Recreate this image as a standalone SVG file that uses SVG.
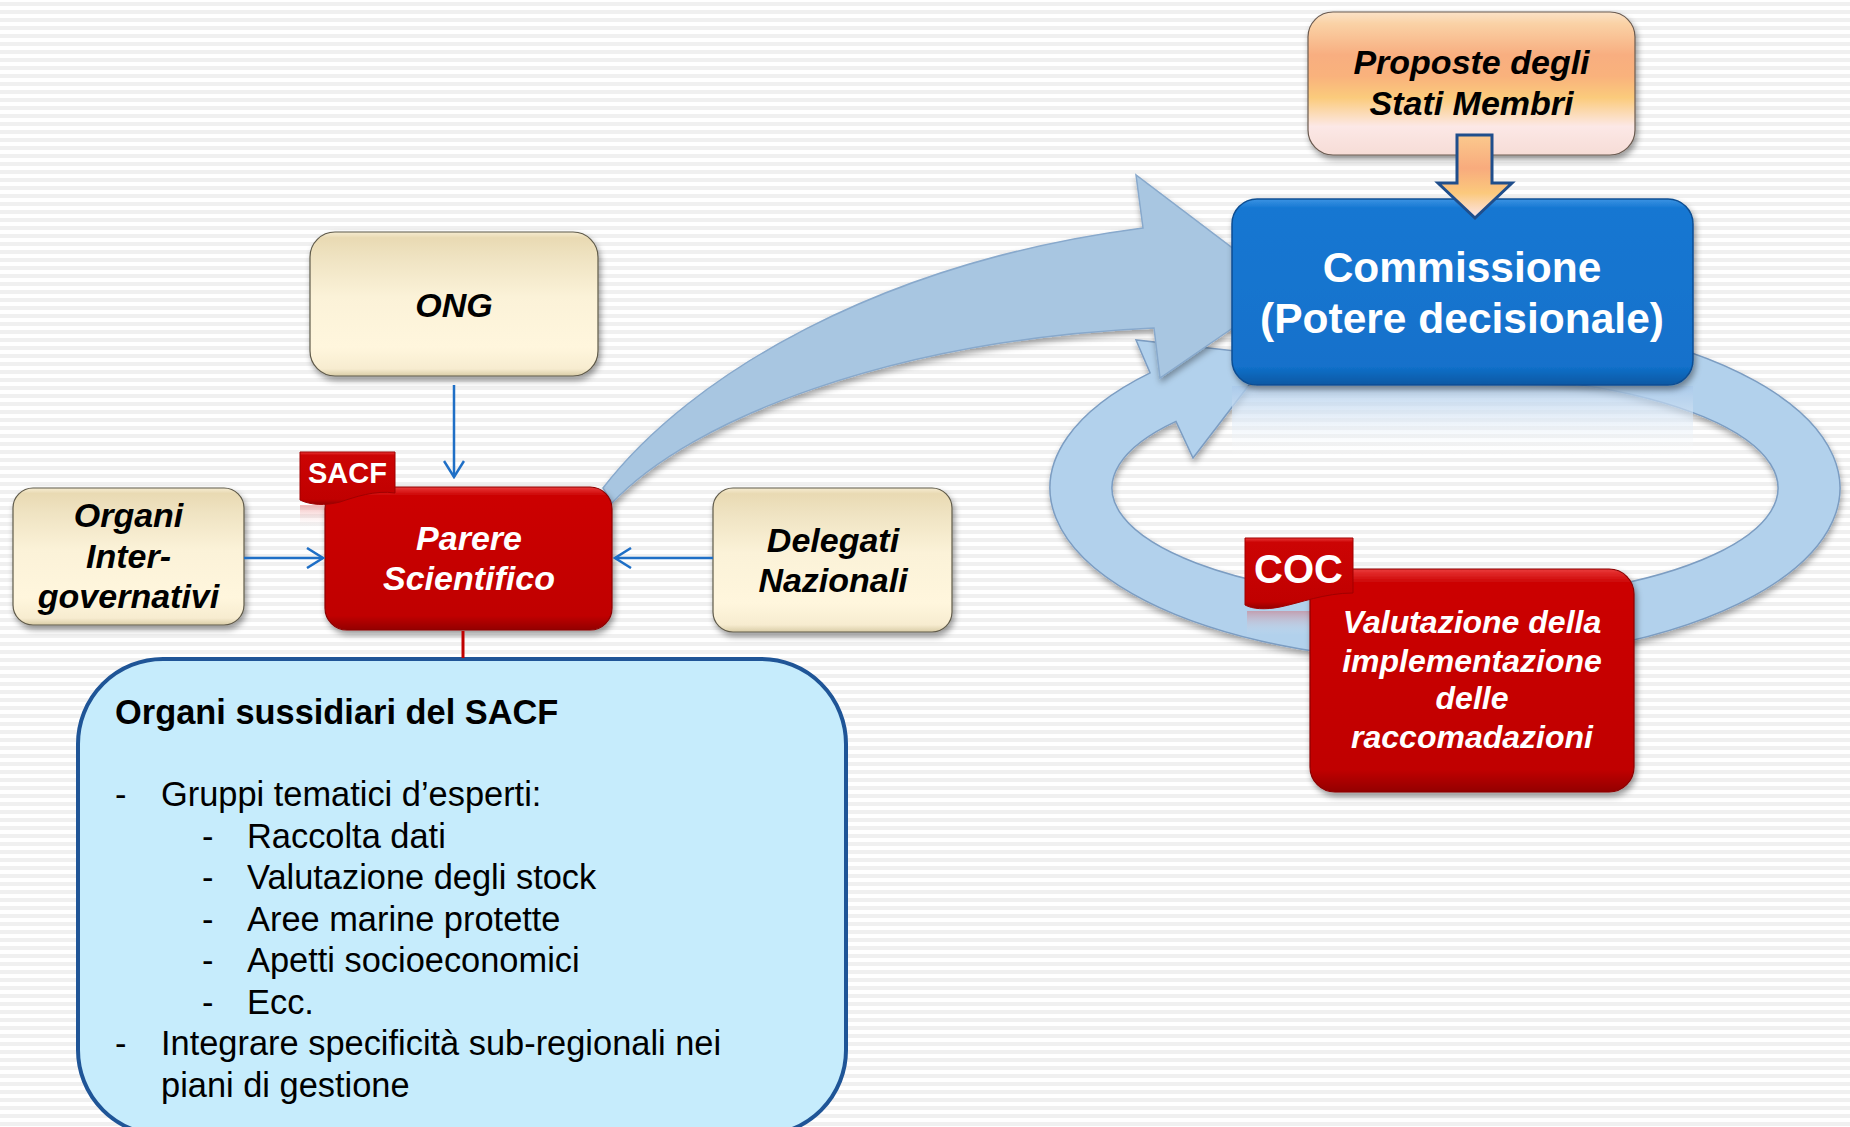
<svg xmlns="http://www.w3.org/2000/svg" width="1850" height="1127" viewBox="0 0 1850 1127">
<defs>
<pattern id="stripes" width="10" height="8" patternUnits="userSpaceOnUse">
<rect width="10" height="8" fill="#ffffff"/>
<rect width="10" height="4" y="2" fill="#f0f0f0"/>
</pattern>
<linearGradient id="beige" x1="0" y1="0" x2="0" y2="1">
<stop offset="0" stop-color="#f6ecd2"/><stop offset="0.04" stop-color="#e9dab3"/><stop offset="0.18" stop-color="#efe3c2"/><stop offset="0.45" stop-color="#fbf2d8"/><stop offset="0.8" stop-color="#fff6dd"/><stop offset="0.95" stop-color="#f7ecd0"/><stop offset="1" stop-color="#d9cca6"/>
</linearGradient>
<linearGradient id="red" x1="0" y1="0" x2="0" y2="1">
<stop offset="0" stop-color="#ea3a3a"/><stop offset="0.06" stop-color="#cc0404"/><stop offset="0.9" stop-color="#c00000"/><stop offset="1" stop-color="#930000"/>
</linearGradient>
<linearGradient id="blue" x1="0" y1="0" x2="0" y2="1">
<stop offset="0" stop-color="#3a93e3"/><stop offset="0.05" stop-color="#1677d2"/><stop offset="0.9" stop-color="#1271cb"/><stop offset="1" stop-color="#0c58a3"/>
</linearGradient>
<linearGradient id="orange" x1="0" y1="0" x2="0" y2="1">
<stop offset="0" stop-color="#fbe3c8"/><stop offset="0.08" stop-color="#fad2a6"/><stop offset="0.3" stop-color="#f8ae80"/><stop offset="0.45" stop-color="#f9b27c"/><stop offset="0.6" stop-color="#fbcb7c"/><stop offset="0.8" stop-color="#fce8e6"/><stop offset="1" stop-color="#f6dcd6"/>
</linearGradient>
<linearGradient id="harrow" x1="0" y1="0" x2="0" y2="1">
<stop offset="0" stop-color="#fbc98d"/><stop offset="0.4" stop-color="#f8ab7d"/><stop offset="0.7" stop-color="#fbc97c"/><stop offset="1" stop-color="#fce6ec"/>
</linearGradient>
<linearGradient id="refl" x1="0" y1="0" x2="0" y2="1">
<stop offset="0" stop-color="#a9c9ea" stop-opacity="0.8"/><stop offset="0.5" stop-color="#dde9f6" stop-opacity="0.6"/><stop offset="1" stop-color="#ffffff" stop-opacity="0"/>
</linearGradient>
<linearGradient id="reflRed" x1="0" y1="0" x2="0" y2="1">
<stop offset="0" stop-color="#e04040" stop-opacity="0.35"/><stop offset="1" stop-color="#ffffff" stop-opacity="0"/>
</linearGradient>
<filter id="shadow" x="-10%" y="-10%" width="125%" height="135%">
<feDropShadow dx="2" dy="4" stdDeviation="3" flood-color="#000" flood-opacity="0.4"/>
</filter>
<filter id="ashadow" x="-10%" y="-10%" width="125%" height="135%">
<feDropShadow dx="1" dy="4" stdDeviation="3" flood-color="#000" flood-opacity="0.35"/>
</filter>
<marker id="arr" viewBox="0 0 20 22" refX="18" refY="11" markerWidth="20" markerHeight="22" markerUnits="userSpaceOnUse" orient="auto">
<path d="M2,1 L18,11 L2,21" fill="none" stroke="#1f6fc6" stroke-width="2.5"/>
</marker>
</defs>
<style>
text{font-family:"Liberation Sans",Arial,Helvetica,sans-serif}
.lab{font-weight:bold;font-style:italic;font-size:34px;text-anchor:middle;fill:#000}
.wlab{font-weight:bold;font-style:italic;font-size:34px;text-anchor:middle;fill:#fff}
.clab{font-weight:bold;font-style:italic;font-size:32px;text-anchor:middle;fill:#fff}
.tag{font-weight:bold;fill:#fff;text-anchor:middle}
.list{font-size:34.4px;fill:#000}
.bbox{fill:url(#beige);stroke:#5f5a4a;stroke-width:1.2;filter:url(#shadow)}
.rbox{fill:url(#red);stroke:#8b0000;stroke-width:1.2;filter:url(#shadow)}
.blink{stroke:#1f6fc6;stroke-width:2.5;fill:none;marker-end:url(#arr)}
</style>
<rect width="1850" height="1127" fill="url(#stripes)"/>

<g id="block-arrows">
<path id="loop-arrow" d="M1445 315 A395 173 0 1 1 1150.1 372.9 L1136 340 L1272 355 L1193 458 L1176 421.4 A333 113 0 1 0 1445 375 Z" fill="#b2d1ec" stroke="#7c9dc2" stroke-width="1.5" filter="url(#ashadow)"/>
<path id="main-arrow" d="M603 488 C690 375 880 262 1143 228 L1136 175 L1288 290 L1160 378 L1154 328 C890 340 690 420 612 503 Z" fill="#a8c6e1" stroke="#88a9cc" stroke-width="1.5" filter="url(#ashadow)"/>
</g>

<g id="ong">
<rect class="bbox" x="310" y="232" width="288" height="144" rx="25"/>
<text class="lab" x="454" y="317">ONG</text>
</g>

<g id="organi">
<rect class="bbox" x="13" y="488" width="231" height="137" rx="20"/>
<text class="lab" x="128.5" y="527">Organi</text>
<text class="lab" x="128.5" y="568">Inter-</text>
<text class="lab" x="128.5" y="608">governativi</text>
</g>

<g id="parere">
<rect x="300" y="505" width="25" height="24" fill="url(#reflRed)"/>
<rect class="rbox" x="325" y="487" width="287" height="143" rx="22"/>
<text class="wlab" x="469" y="550">Parere</text>
<text class="wlab" x="469" y="590">Scientifico</text>
</g>

<g id="sacf-tag">
<path d="M300 452 H395 V493 C375 490 355 497 340 502 C325 506 310 505 300 500 Z" fill="url(#red)" stroke="#a00000" stroke-width="1"/>
<text class="tag" x="347.5" y="483" font-size="29">SACF</text>
</g>

<g id="delegati">
<rect class="bbox" x="713" y="488" width="239" height="144" rx="20"/>
<text class="lab" x="833" y="552">Delegati</text>
<text class="lab" x="833" y="592">Nazionali</text>
</g>

<g id="proposte">
<rect x="1308" y="12" width="327" height="143" rx="25" fill="url(#orange)" stroke="#6a5a50" stroke-width="1.2" filter="url(#shadow)"/>
<text class="lab" x="1471.5" y="74">Proposte degli</text>
<text class="lab" x="1471.5" y="115">Stati Membri</text>
</g>

<g id="commissione">
<rect x="1232" y="386" width="461" height="70" fill="url(#refl)"/>
<rect x="1232" y="199" width="461" height="186" rx="25" fill="url(#blue)" stroke="#0d4e92" stroke-width="1.5" filter="url(#shadow)"/>
<text x="1462" y="282" font-size="42.5" font-weight="bold" fill="#fff" text-anchor="middle">Commissione</text>
<text x="1462" y="333" font-size="42.5" font-weight="bold" fill="#fff" text-anchor="middle">(Potere decisionale)</text>
</g>

<g id="coc-box">
<rect x="1247" y="611" width="63" height="24" fill="url(#reflRed)"/>
<rect class="rbox" x="1310" y="569" width="324" height="223" rx="25"/>
<text class="clab" x="1472" y="633">Valutazione della</text>
<text class="clab" x="1472" y="672">implementazione</text>
<text class="clab" x="1472" y="709">delle</text>
<text class="clab" x="1472" y="748">raccomadazioni</text>
</g>

<g id="coc-tag">
<path d="M1245 538 H1353 V593 C1325 593 1300 603 1280 607 C1265 610 1252 609 1245 605 Z" fill="url(#red)" stroke="#a00000" stroke-width="1"/>
<text class="tag" x="1298.5" y="583" font-size="40">COC</text>
</g>

<g id="organi-sussidiari">
<rect x="78" y="659" width="768" height="476" rx="85" fill="#c6ecfc" stroke="#1f5597" stroke-width="4"/>
<text x="115" y="724" font-size="34.4" font-weight="bold" fill="#000">Organi sussidiari del SACF</text>
<text class="list" x="115" y="806">-</text><text class="list" x="161" y="806">Gruppi tematici d’esperti:</text>
<text class="list" x="202" y="848">-</text><text class="list" x="247" y="848">Raccolta dati</text>
<text class="list" x="202" y="889">-</text><text class="list" x="247" y="889">Valutazione degli stock</text>
<text class="list" x="202" y="931">-</text><text class="list" x="247" y="931">Aree marine protette</text>
<text class="list" x="202" y="972">-</text><text class="list" x="247" y="972">Apetti socioeconomici</text>
<text class="list" x="202" y="1014">-</text><text class="list" x="247" y="1014">Ecc.</text>
<text class="list" x="115" y="1055">-</text><text class="list" x="161" y="1055">Integrare specificità sub-regionali nei</text>
<text class="list" x="161" y="1097">piani di gestione</text>
</g>

<g id="connectors">
<line class="blink" x1="454" y1="385" x2="454" y2="477"/>
<line class="blink" x1="244" y1="558" x2="323" y2="558"/>
<line class="blink" x1="713" y1="558" x2="615" y2="558"/>
<line x1="463" y1="631" x2="463" y2="658" stroke="#c00000" stroke-width="3"/>
<path d="M1457 135 H1492 V183 H1512 L1475 218 L1438 183 H1457 Z" fill="url(#harrow)" stroke="#1f4e8c" stroke-width="3" stroke-linejoin="miter"/>
</g>
</svg>
